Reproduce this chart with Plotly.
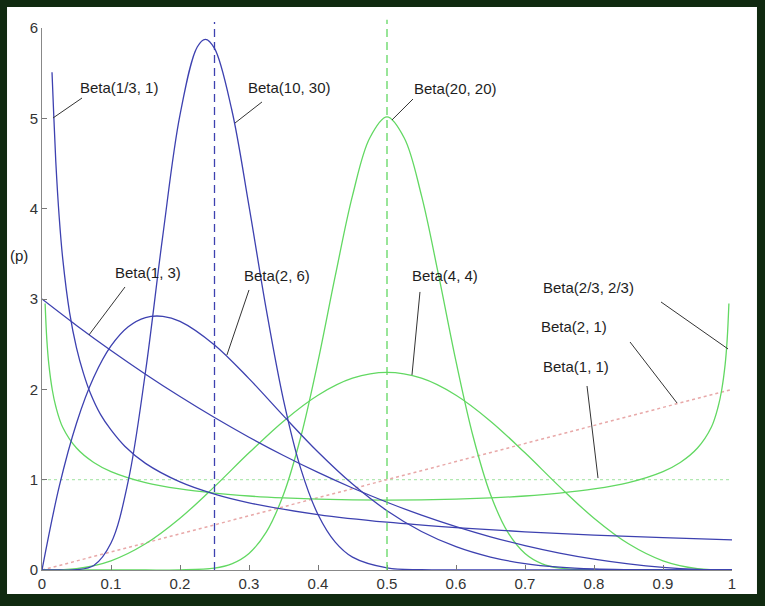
import plotly.graph_objects as go

# ---- data ----
x_b13_1 = [0.0145, 0.017, 0.02, 0.025, 0.03, 0.04, 0.05, 0.06, 0.07, 0.085, 0.1, 0.12, 0.15, 0.2, 0.25, 0.3, 0.4, 0.5, 0.6, 0.7, 0.8, 0.9, 1.0]
y_b13_1 = [5.51, 5.04, 4.52, 3.90, 3.45, 2.85, 2.46, 2.18, 1.96, 1.72, 1.55, 1.37, 1.18, 0.975, 0.840, 0.744, 0.614, 0.529, 0.469, 0.423, 0.387, 0.358, 0.333]

x_b10_30 = [0, 0.025, 0.05, 0.075, 0.1, 0.125, 0.15, 0.175, 0.2, 0.225, 0.2368, 0.25, 0.275, 0.3, 0.325, 0.35, 0.375, 0.4, 0.425, 0.45, 0.5, 0.55, 0.6, 0.7, 0.8, 0.9, 1.0]
y_b10_30 = [0, 0, 0.003, 0.050, 0.299, 0.986, 2.195, 3.697, 5.038, 5.790, 5.875, 5.775, 5.095, 4.029, 2.885, 1.881, 1.122, 0.614, 0.308, 0.142, 0.023, 0.003, 0, 0, 0, 0, 0]

x_b1_3 = [0, 0.05, 0.1, 0.15, 0.2, 0.25, 0.3, 0.35, 0.4, 0.45, 0.5, 0.55, 0.6, 0.65, 0.7, 0.75, 0.8, 0.85, 0.9, 0.95, 1.0]
y_b1_3 = [3, 2.7075, 2.43, 2.1675, 1.92, 1.6875, 1.47, 1.2675, 1.08, 0.9075, 0.75, 0.6075, 0.48, 0.3675, 0.27, 0.1875, 0.12, 0.0675, 0.03, 0.0075, 0]

x_b2_6 = [0, 0.025, 0.05, 0.075, 0.1, 0.125, 0.15, 0.175, 0.2, 0.25, 0.3, 0.35, 0.4, 0.45, 0.5, 0.55, 0.6, 0.65, 0.7, 0.75, 0.8, 0.85, 0.9, 0.95, 1.0]
y_b2_6 = [0, 0.925, 1.625, 2.133, 2.480, 2.693, 2.795, 2.808, 2.753, 2.492, 2.118, 1.706, 1.306, 0.951, 0.656, 0.426, 0.258, 0.143, 0.071, 0.031, 0.011, 0.003, 0.0, 0, 0]

x_b20_20 = [0, 0.1, 0.15, 0.2, 0.25, 0.275, 0.3, 0.325, 0.35, 0.375, 0.4, 0.425, 0.45, 0.475, 0.5, 0.525, 0.55, 0.575, 0.6, 0.625, 0.65, 0.675, 0.7, 0.725, 0.75, 0.8, 0.85, 0.9, 1.0]
y_b20_20 = [0, 0, 0, 0.001, 0.021, 0.068, 0.183, 0.419, 0.836, 1.472, 2.309, 3.255, 4.144, 4.783, 5.016, 4.783, 4.144, 3.255, 2.309, 1.472, 0.836, 0.419, 0.183, 0.068, 0.021, 0.001, 0, 0, 0]

x_b4_4 = [0, 0.05, 0.1, 0.15, 0.2, 0.25, 0.3, 0.35, 0.4, 0.45, 0.5, 0.55, 0.6, 0.65, 0.7, 0.75, 0.8, 0.85, 0.9, 0.95, 1.0]
y_b4_4 = [0, 0.015, 0.102, 0.290, 0.573, 0.923, 1.297, 1.648, 1.935, 2.123, 2.188, 2.123, 1.935, 1.648, 1.297, 0.923, 0.573, 0.290, 0.102, 0.015, 0]

x_b23_23 = [0.0045, 0.007, 0.01, 0.015, 0.02, 0.03, 0.05, 0.075, 0.1, 0.15, 0.2, 0.25, 0.3, 0.35, 0.4, 0.45, 0.5, 0.55, 0.6, 0.65, 0.7, 0.75, 0.8, 0.85, 0.9, 0.925, 0.95, 0.97, 0.98, 0.985, 0.99, 0.993, 0.9955]
y_b23_23 = [2.95, 2.55, 2.27, 1.99, 1.81, 1.58, 1.35, 1.19, 1.09, 0.968, 0.897, 0.851, 0.819, 0.798, 0.784, 0.776, 0.773, 0.776, 0.784, 0.798, 0.819, 0.851, 0.897, 0.968, 1.09, 1.19, 1.35, 1.58, 1.81, 1.99, 2.27, 2.55, 2.95]

x_b2_1 = [0, 1]
y_b2_1 = [0, 2]

x_b1_1 = [0, 1]
y_b1_1 = [1, 1]

mean_blue = 0.25
mean_green = 0.5

x_ticks = [0, 0.1, 0.2, 0.3, 0.4, 0.5, 0.6, 0.7, 0.8, 0.9, 1]
x_tick_text = ["0", "0.1", "0.2", "0.3", "0.4", "0.5", "0.6", "0.7", "0.8", "0.9", "1"]
y_ticks = [0, 1, 2, 3, 4, 5, 6]
y_tick_text = ["0", "1", "2", "3", "4", "5", "6"]

# labels: text, text position, leader line start, leader line end (data coords)
labels = [
    ("Beta(1/3, 1)",   (0.1116, 5.336), (0.058, 5.225), (0.016, 5.004)),
    ("Beta(10, 30)",   (0.3594, 5.336), (0.3188, 5.181), (0.2797, 4.948)),
    ("Beta(1, 3)",     (0.1536, 3.288), (0.1203, 3.133), (0.0681, 2.602)),
    ("Beta(2, 6)",     (0.3406, 3.255), (0.300, 3.100), (0.268, 2.380)),
    ("Beta(20, 20)",   (0.5986, 5.325), (0.5377, 5.214), (0.5072, 4.982)),
    ("Beta(4, 4)",     (0.584, 3.255), (0.5478, 3.078), (0.5362, 2.159)),
    ("Beta(2/3, 2/3)", (0.7913, 3.122), (0.8971, 2.967), (0.9942, 2.447)),
    ("Beta(2, 1)",     (0.771, 2.701), (0.8522, 2.524), (0.9203, 1.849)),
    ("Beta(1, 1)",     (0.774, 2.258), (0.7899, 2.037), (0.8058, 1.018)),
]

BLUE = "#3d41b0"
GREEN = "#62d862"
PINK = "#e8a8a8"
LIGHTGREEN = "#b2e8b2"
FONT = "Liberation Sans, Arial, sans-serif"

fig = go.Figure()

def curve(x, y, color, dash="solid", width=1.3, shape="spline"):
    fig.add_trace(go.Scatter(x=x, y=y, mode="lines",
                             line=dict(color=color, width=width, dash=dash, shape=shape),
                             hoverinfo="skip", showlegend=False))

curve(x_b1_1, y_b1_1, LIGHTGREEN, dash="dot", width=1.3, shape="linear")
curve(x_b2_1, y_b2_1, PINK, dash="dot", width=1.5, shape="linear")
curve(x_b23_23, y_b23_23, GREEN)
curve(x_b4_4, y_b4_4, GREEN)
curve(x_b20_20, y_b20_20, GREEN)
curve(x_b1_3, y_b1_3, BLUE)
curve(x_b2_6, y_b2_6, BLUE)
curve(x_b13_1, y_b13_1, BLUE)
curve(x_b10_30, y_b10_30, BLUE)

shapes = []
# frame background (white card on dark border)
shapes.append(dict(type="rect", xref="paper", yref="paper",
                   x0=-0.0507, x1=1.0362, y0=-0.0443, y1=1.0387,
                   fillcolor="white", line=dict(width=0), layer="below"))
# vertical dashed mean lines
shapes.append(dict(type="line", xref="x", yref="paper", x0=mean_blue, x1=mean_blue,
                   y0=0, y1=1.011, line=dict(color=BLUE, width=1.3, dash="8px,5px")))
shapes.append(dict(type="line", xref="x", yref="paper", x0=mean_green, x1=mean_green,
                   y0=0, y1=1.015, line=dict(color=GREEN, width=1.3, dash="8px,5px")))

annotations = []
for text, (tx, ty), (lx0, ly0), (lx1, ly1) in labels:
    annotations.append(dict(x=tx, y=ty, xref="x", yref="y", text=text, showarrow=False,
                            font=dict(family=FONT, size=15, color="#1e1e1e"),
                            xanchor="center", yanchor="middle"))
    shapes.append(dict(type="line", xref="x", yref="y", x0=lx0, y0=ly0, x1=lx1, y1=ly1,
                       line=dict(color="#333333", width=1)))

annotations.append(dict(x=-0.049, y=0.5808, xref="paper", yref="paper", text="(p)",
                        showarrow=False, xanchor="left", yanchor="middle",
                        font=dict(family=FONT, size=15, color="#222222")))

fig.update_layout(
    width=765, height=606,
    margin=dict(l=42, r=33, t=28, b=36),
    paper_bgcolor="#102a10",
    plot_bgcolor="white",
    shapes=shapes,
    annotations=annotations,
    showlegend=False,
    xaxis=dict(range=[0, 1], tickvals=x_ticks, ticktext=x_tick_text,
               ticks="inside", ticklen=5, tickcolor="#777777",
               showline=True, linecolor="#888888", linewidth=1,
               showgrid=False, zeroline=False,
               tickfont=dict(family=FONT, size=15, color="#333333")),
    yaxis=dict(range=[0, 6], tickvals=y_ticks, ticktext=y_tick_text,
               ticks="inside", ticklen=5, tickcolor="#777777",
               showline=True, linecolor="#888888", linewidth=1,
               showgrid=False, zeroline=False,
               tickfont=dict(family=FONT, size=15, color="#333333")),
)

fig.write_html("out.html")
